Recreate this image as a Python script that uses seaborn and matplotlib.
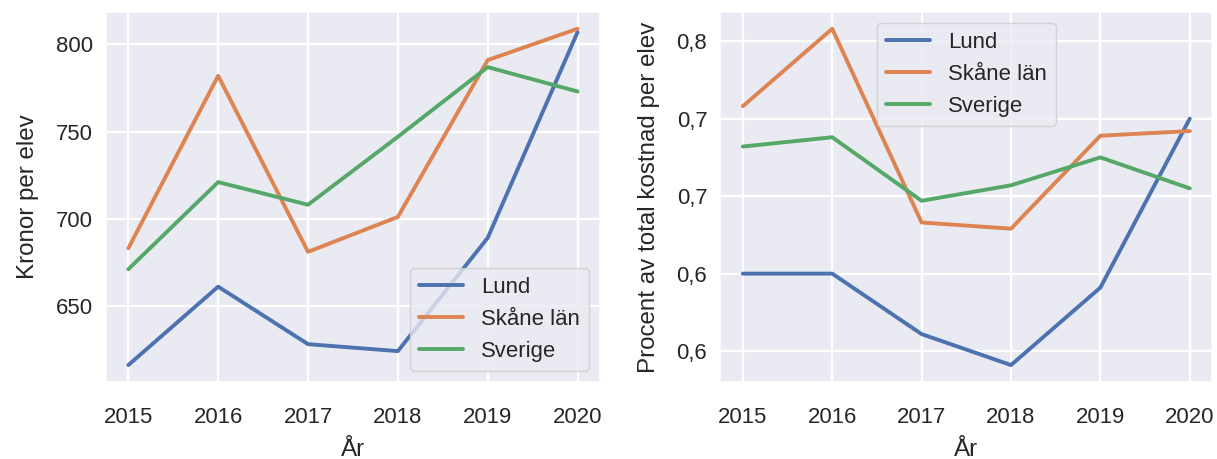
import pandas as pd
import matplotlib
import matplotlib.pyplot as plt
import seaborn as sns
from matplotlib.ticker import FuncFormatter, MultipleLocator

matplotlib.use('Agg')

years = [2015, 2016, 2017, 2018, 2019, 2020]
regions = ['Lund', 'Skåne län', 'Sverige']

# kronor per elev
kr_lund = [616, 661, 628, 624, 689, 807]
kr_skane = [683, 782, 681, 701, 791, 809]
kr_sverige = [671, 721, 708, 747, 787, 773]

# procent av total kostnad per elev
pct_lund = [0.600, 0.600, 0.561, 0.541, 0.591, 0.700]
pct_skane = [0.708, 0.758, 0.633, 0.629, 0.689, 0.692]
pct_sverige = [0.682, 0.688, 0.647, 0.657, 0.675, 0.655]


def long_df(a, b, c):
    rows = []
    for name, vals in zip(regions, [a, b, c]):
        for yr, v in zip(years, vals):
            rows.append({'År': yr, 'Region': name, 'value': v})
    return pd.DataFrame(rows)


sns.set_theme(style='darkgrid', font_scale=1.45,
              rc={'grid.linewidth': 1.6})
plt.rcParams['font.family'] = ['Liberation Sans', 'DejaVu Sans']

fig = plt.figure(figsize=(12.17, 4.59), dpi=100)
ax1 = fig.add_axes([0.087, 0.168, 0.406, 0.806])
ax2 = fig.add_axes([0.592, 0.168, 0.404, 0.806])

comma = FuncFormatter(lambda v, p: f'{v:.1f}'.replace('.', ','))

df1 = long_df(kr_lund, kr_skane, kr_sverige)
sns.lineplot(data=df1, x='År', y='value', hue='Region', hue_order=regions,
             ax=ax1, linewidth=2.8)
ax1.set_ylabel('Kronor per elev', labelpad=12)
ax1.yaxis.set_major_locator(MultipleLocator(50))
ax1.legend(loc='lower right')

df2 = long_df(pct_lund, pct_skane, pct_sverige)
sns.lineplot(data=df2, x='År', y='value', hue='Region', hue_order=regions,
             ax=ax2, linewidth=2.8)
ax2.set_ylabel('Procent av total kostnad per elev', labelpad=12)
ax2.yaxis.set_major_locator(MultipleLocator(0.05))
ax2.yaxis.set_major_formatter(comma)
ax2.legend(loc='upper center')

for ax in (ax1, ax2):
    ax.set_xticks(years)
    ax.set_xlabel('År', labelpad=8)
    ax.tick_params(axis='x', pad=12)

plt.savefig('out.png', dpi=100)
plt.close('all')
